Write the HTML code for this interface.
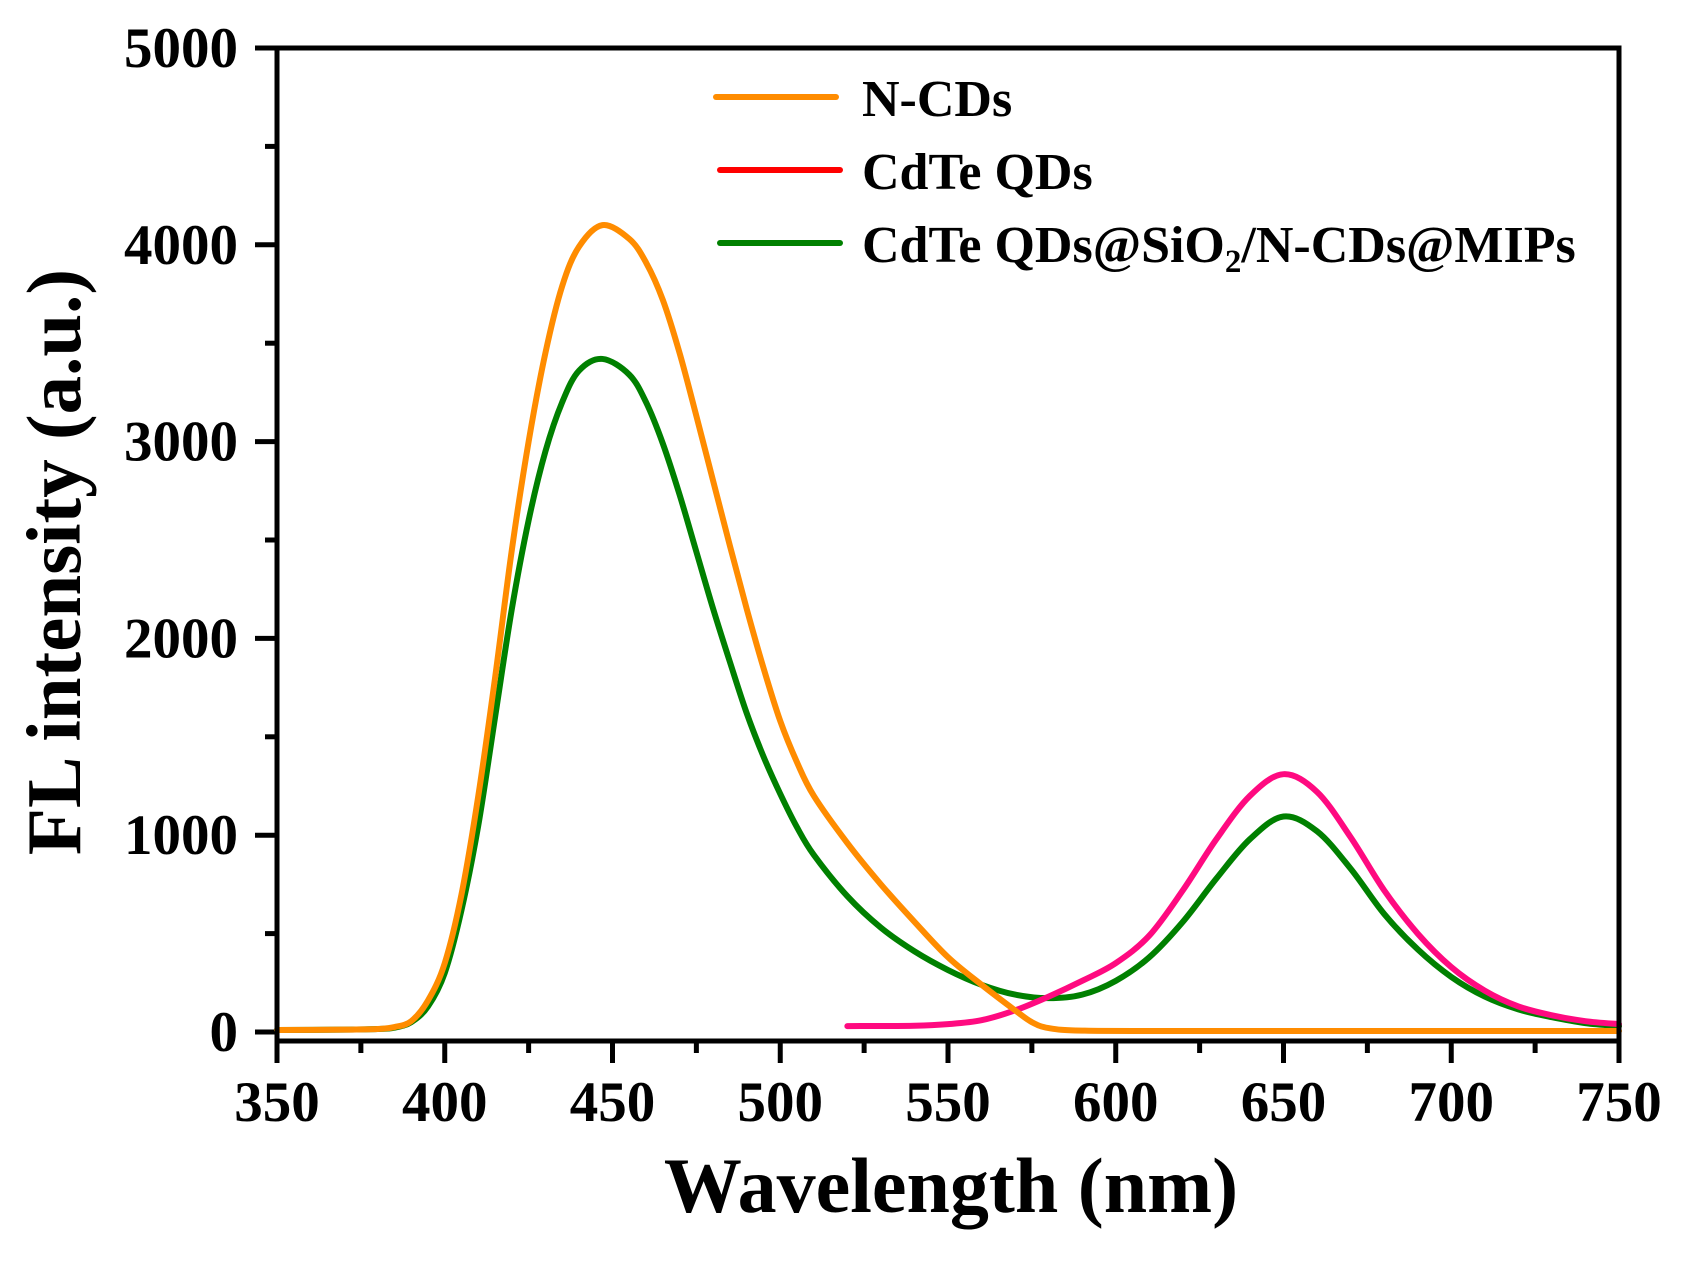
<!DOCTYPE html>
<html><head><meta charset="utf-8"><style>
html,body{margin:0;padding:0;background:#fff;}
svg{display:block;}
text{font-family:"Liberation Serif",serif;font-weight:bold;fill:#000;}
</style></head><body>
<svg id="s" width="1688" height="1262" viewBox="0 0 1688 1262" xmlns="http://www.w3.org/2000/svg">
<g id="ticks" stroke="#000" stroke-width="5"></g>
<g id="curves" fill="none" stroke-width="6" stroke-linejoin="round" stroke-linecap="round"></g>
<rect x="277" y="48" width="1342" height="993" fill="none" stroke="#000" stroke-width="5"/>
<g id="labels" font-size="57"></g>
<text x="0" y="0" font-size="77" text-anchor="middle" transform="translate(80,562) rotate(-90)">FL intensity (a.u.)</text>
<text x="951" y="1212" font-size="78" text-anchor="middle">Wavelength (nm)</text>
<line x1="716" y1="97" x2="836" y2="97" stroke="#ff8c00" stroke-width="6" stroke-linecap="round"/>
<line x1="720" y1="170" x2="840" y2="170" stroke="#ff0000" stroke-width="6" stroke-linecap="round"/>
<line x1="720" y1="243" x2="840" y2="243" stroke="#008000" stroke-width="6" stroke-linecap="round"/>
<text x="862" y="116" font-size="52">N-CDs</text>
<text x="862" y="189" font-size="52">CdTe QDs</text>
<text x="862" y="262" font-size="52">CdTe QDs@SiO<tspan font-size="33" dy="10">2</tspan><tspan dy="-10">/N-CDs@MIPs</tspan></text>
</svg>
<script>
var X=function(v){return 277+(v-350)*1342/400;};
var Y=function(v){return 1032-v*0.1968;};
var NS="http://www.w3.org/2000/svg";
function el(p,n,a,t){var e=document.createElementNS(NS,n);for(var k in a)e.setAttribute(k,a[k]);if(t)e.textContent=t;document.getElementById(p).appendChild(e);}
for(var v=350;v<=750;v+=25){var maj=(v%50==0);el("ticks","line",{x1:X(v),y1:1041,x2:X(v),y2:1041+(maj?22:12)});
 if(maj)el("labels","text",{x:X(v),y:1121,"text-anchor":"middle"},""+v);}
for(var v=0;v<=5000;v+=500){var maj=(v%1000==0);el("ticks","line",{x1:277,y1:Y(v),x2:277-(maj?22:12),y2:Y(v)});
 if(maj)el("labels","text",{x:238,y:Y(v)+19,"text-anchor":"end"},""+v);}
function path(d,c){var p=d.map(function(q){return [X(q[0]),Y(q[1])];});
 var s="M"+p[0][0]+","+p[0][1];
 for(var i=0;i<p.length-1;i++){var p0=p[i-1]||p[i],p1=p[i],p2=p[i+1],p3=p[i+2]||p2;
  s+=" C"+(p1[0]+(p2[0]-p0[0])/6)+","+(p1[1]+(p2[1]-p0[1])/6)+" "+(p2[0]-(p3[0]-p1[0])/6)+","+(p2[1]-(p3[1]-p1[1])/6)+" "+p2[0]+","+p2[1];}
 el("curves","path",{d:s,stroke:c});}
var pink=[[520,30],[540,32],[550,40],[560,60],[570,110],[580,180],[590,260],[600,350],[610,490],[620,720],[630,980],[640,1200],[650,1310],[660,1220],[670,990],[680,720],[690,500],[700,330],[710,210],[720,130],[730,85],[740,55],[750,40]];
var green=[[350,10],[370,12],[380,15],[385,22],[390,50],[395,130],[400,300],[405,620],[410,1050],[415,1600],[420,2150],[425,2600],[430,2950],[435,3200],[440,3360],[447,3420],[455,3340],[460,3200],[465,2990],[470,2730],[475,2440],[480,2150],[485,1880],[490,1620],[495,1400],[500,1210],[505,1040],[510,900],[520,690],[530,530],[540,410],[550,315],[560,240],[570,190],[580,172],[590,190],[600,260],[610,380],[620,560],[630,780],[640,980],[650,1095],[660,1020],[670,830],[680,600],[690,420],[700,280],[710,180],[720,115],[730,75],[740,45],[750,30]];
var orange=[[350,10],[370,12],[380,15],[385,25],[390,55],[395,160],[400,350],[405,700],[410,1200],[415,1800],[420,2450],[425,3000],[430,3450],[435,3790],[440,3990],[447,4100],[455,4030],[460,3910],[465,3720],[470,3450],[475,3130],[480,2800],[485,2470],[490,2150],[495,1850],[500,1580],[505,1370],[510,1200],[520,960],[530,750],[540,560],[550,380],[560,240],[570,110],[575,50],[580,20],[590,7],[620,5],[750,5]];
path(green,"#008000");path(pink,"#ff0a80");path(orange,"#ff8c00");
</script>
</body></html>
